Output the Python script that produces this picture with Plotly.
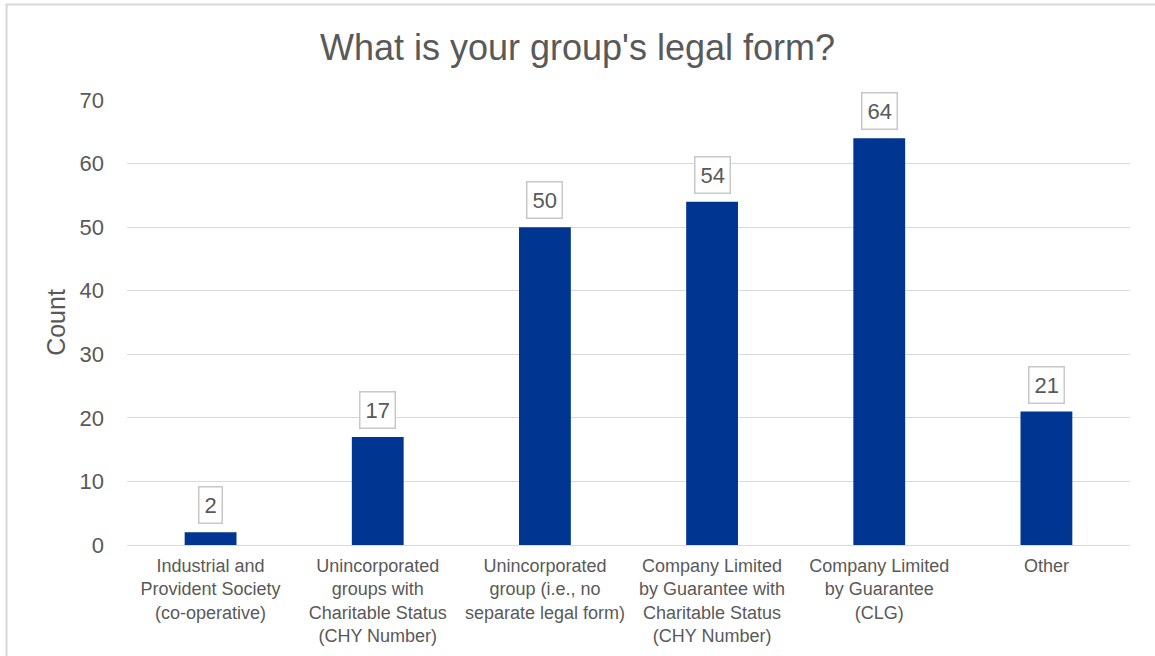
import plotly.graph_objects as go

# Survey responses: legal form of each group
categories = [
    "Industrial and<br>Provident Society<br>(co-operative)",
    "Unincorporated<br>groups with<br>Charitable Status<br>(CHY Number)",
    "Unincorporated<br>group (i.e., no<br>separate legal form)",
    "Company Limited<br>by Guarantee with<br>Charitable Status<br>(CHY Number)",
    "Company Limited<br>by Guarantee<br>(CLG)",
    "Other",
]
counts = [2, 17, 50, 54, 64, 21]
y_ticks = [0, 10, 20, 30, 40, 50, 60, 70]

TEXT = "#595959"
GRID = "#d9d9d9"
BAR = "#003591"
FONT = "Liberation Sans, Arial, sans-serif"

fig = go.Figure(
    go.Bar(
        x=categories,
        y=counts,
        marker=dict(color=BAR, line=dict(width=0)),
        width=0.31,
        hoverinfo="x+y",
    )
)

# Boxed value labels above each bar
for cat, val in zip(categories, counts):
    fig.add_annotation(
        x=cat, y=val, text=str(val), showarrow=False,
        yanchor="bottom", yshift=8,
        font=dict(family=FONT, size=22, color=TEXT),
        bgcolor="white", bordercolor="#c8c8c8", borderwidth=1.5, borderpad=5,
    )

# Light frame around the whole chart
fig.add_shape(
    type="rect", xref="paper", yref="paper",
    x0=-0.1201, x1=1.04, y0=-0.3, y1=1.2146,
    line=dict(color=GRID, width=2), fillcolor="rgba(0,0,0,0)", layer="below",
)

fig.update_layout(
    width=1155, height=656,
    margin=dict(l=127, r=25, t=100, b=111, autoexpand=False),
    paper_bgcolor="white", plot_bgcolor="white",
    showlegend=False,
    font=dict(family=FONT, color=TEXT),
    title=dict(
        text="What is your group's legal form?",
        x=0.5, xref="container", xanchor="center",
        y=1 - 47 / 656, yref="container", yanchor="middle",
        font=dict(family=FONT, size=36, color=TEXT),
    ),
    bargap=0.69,
)

fig.update_xaxes(
    showgrid=False, showline=False, ticks="", automargin=False,
    tickfont=dict(family=FONT, size=18, color=TEXT),
    ticklabelstandoff=8, tickangle=0,
)

fig.update_yaxes(
    range=[0, 70], tickvals=y_ticks, automargin=False,
    showgrid=True, gridcolor=GRID, gridwidth=1,
    zeroline=True, zerolinecolor=GRID, zerolinewidth=1,
    showline=False, ticks="",
    tickfont=dict(family=FONT, size=22, color=TEXT),
    ticklabelstandoff=22,
    title=dict(text="Count", font=dict(family=FONT, size=25, color=TEXT), standoff=6),
)

fig.write_html("out.html")
